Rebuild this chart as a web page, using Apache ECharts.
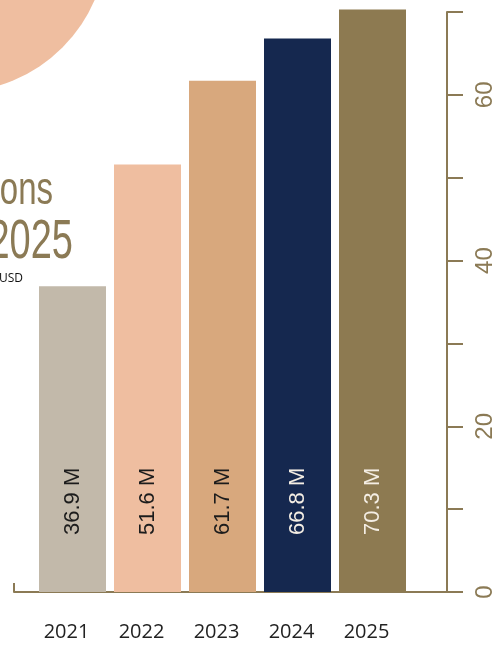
<!DOCTYPE html>
<html>
<head>
<meta charset="utf-8">
<script src="https://cdn.jsdelivr.net/npm/echarts@6/dist/echarts.min.js"></script>
<style>
html, body { margin: 0; padding: 0; background: #fff; }
#chart { width: 502px; height: 646px; }
</style>
</head>
<body>
<div id="chart"></div>
<script>
var years = ['2021', '2022', '2023', '2024', '2025'];
var values = [36.9, 51.6, 61.7, 66.8, 70.3];
var barColors = ['#C2B9AA', '#EFBEA0', '#D8A87D', '#15284F', '#8D7A51'];
var labelColors = ['#1c1c1c', '#1c1c1c', '#1c1c1c', '#F4EEE4', '#F4EEE4'];
var yTicks = [0, 20, 40, 60];

var axisColor = '#8B7A55';

var chart = echarts.init(document.getElementById('chart'));

var barData = values.map(function (v, i) {
	return {
		value: v,
		itemStyle: { color: barColors[i] },
		label: { color: labelColors[i] }
	};
});

var option = {
	animation: false,
	backgroundColor: '#ffffff',
	graphic: [
		{
			type: 'circle',
			shape: { cx: -45, cy: -60, r: 152 },
			style: { fill: '#EFBEA0' },
			z: -1
		},
		{
			type: 'text',
			x: 53, y: 214,
			scaleY: 1.4,
			style: {
				text: 'ons',
				fill: axisColor,
				font: '500 33px "Liberation Sans Narrow", sans-serif',
				textAlign: 'right',
				textVerticalAlign: 'bottom'
			}
		},
		{
			type: 'text',
			x: 73, y: 270,
			scaleY: 1.45,
			style: {
				text: '2025',
				fill: axisColor,
				font: '500 38px "Liberation Sans Narrow", sans-serif',
				textAlign: 'right',
				textVerticalAlign: 'bottom'
			}
		},
		{
			type: 'text',
			x: 23, y: 285,
			style: {
				text: 'USD',
				fill: '#111',
				font: '12px "Open Sans", sans-serif',
				textAlign: 'right',
				textVerticalAlign: 'bottom'
			}
		}
	],
	grid: [
		{ left: 35, right: 92, top: 12, bottom: 54 },
		{ left: 14, right: 55, top: 12, bottom: 54 }
	],
	xAxis: [
		{
			type: 'category',
			gridIndex: 0,
			data: years,
			axisLine: { show: false },
			axisTick: { show: false },
			axisLabel: {
				color: '#222',
				fontSize: 20,
				fontFamily: 'Open Sans',
				margin: 30,
				padding: [0, 12, 0, 0]
			}
		},
		{
			type: 'value',
			gridIndex: 1,
			min: 0,
			max: 1,
			interval: 1,
			axisLine: { show: true, onZero: false, lineStyle: { color: axisColor, width: 2 } },
			axisTick: { show: true, inside: true, length: 9, lineStyle: { color: axisColor, width: 2 } },
			axisLabel: { show: false },
			splitLine: { show: false }
		}
	],
	yAxis: [
		{
			type: 'value',
			gridIndex: 0,
			min: 0,
			max: 70,
			show: false
		},
		{
			type: 'value',
			gridIndex: 1,
			position: 'right',
			min: 0,
			max: 70,
			interval: 10,
			axisLine: { show: true, onZero: false, lineStyle: { color: axisColor, width: 2 } },
			axisTick: { show: true, length: 16, lineStyle: { color: axisColor, width: 2 } },
			splitLine: { show: false },
			axisLabel: {
				color: axisColor,
				fontSize: 24,
				fontFamily: 'Liberation Sans',
				rotate: 90,
				margin: 26,
				formatter: function (v) {
					return yTicks.indexOf(v) > -1 ? String(v) : '';
				}
			}
		}
	],
	series: [
		{
			type: 'bar',
			xAxisIndex: 0,
			yAxisIndex: 0,
			barWidth: 67,
			clip: false,
			data: barData,
			label: {
				show: true,
				position: 'insideBottom',
				distance: 57,
				rotate: 90,
				align: 'left',
				verticalAlign: 'middle',
				fontSize: 22,
				fontFamily: 'Liberation Sans',
				formatter: function (p) {
					return p.value + ' M';
				}
			}
		}
	]
};

chart.setOption(option);
</script>
</body>
</html>
